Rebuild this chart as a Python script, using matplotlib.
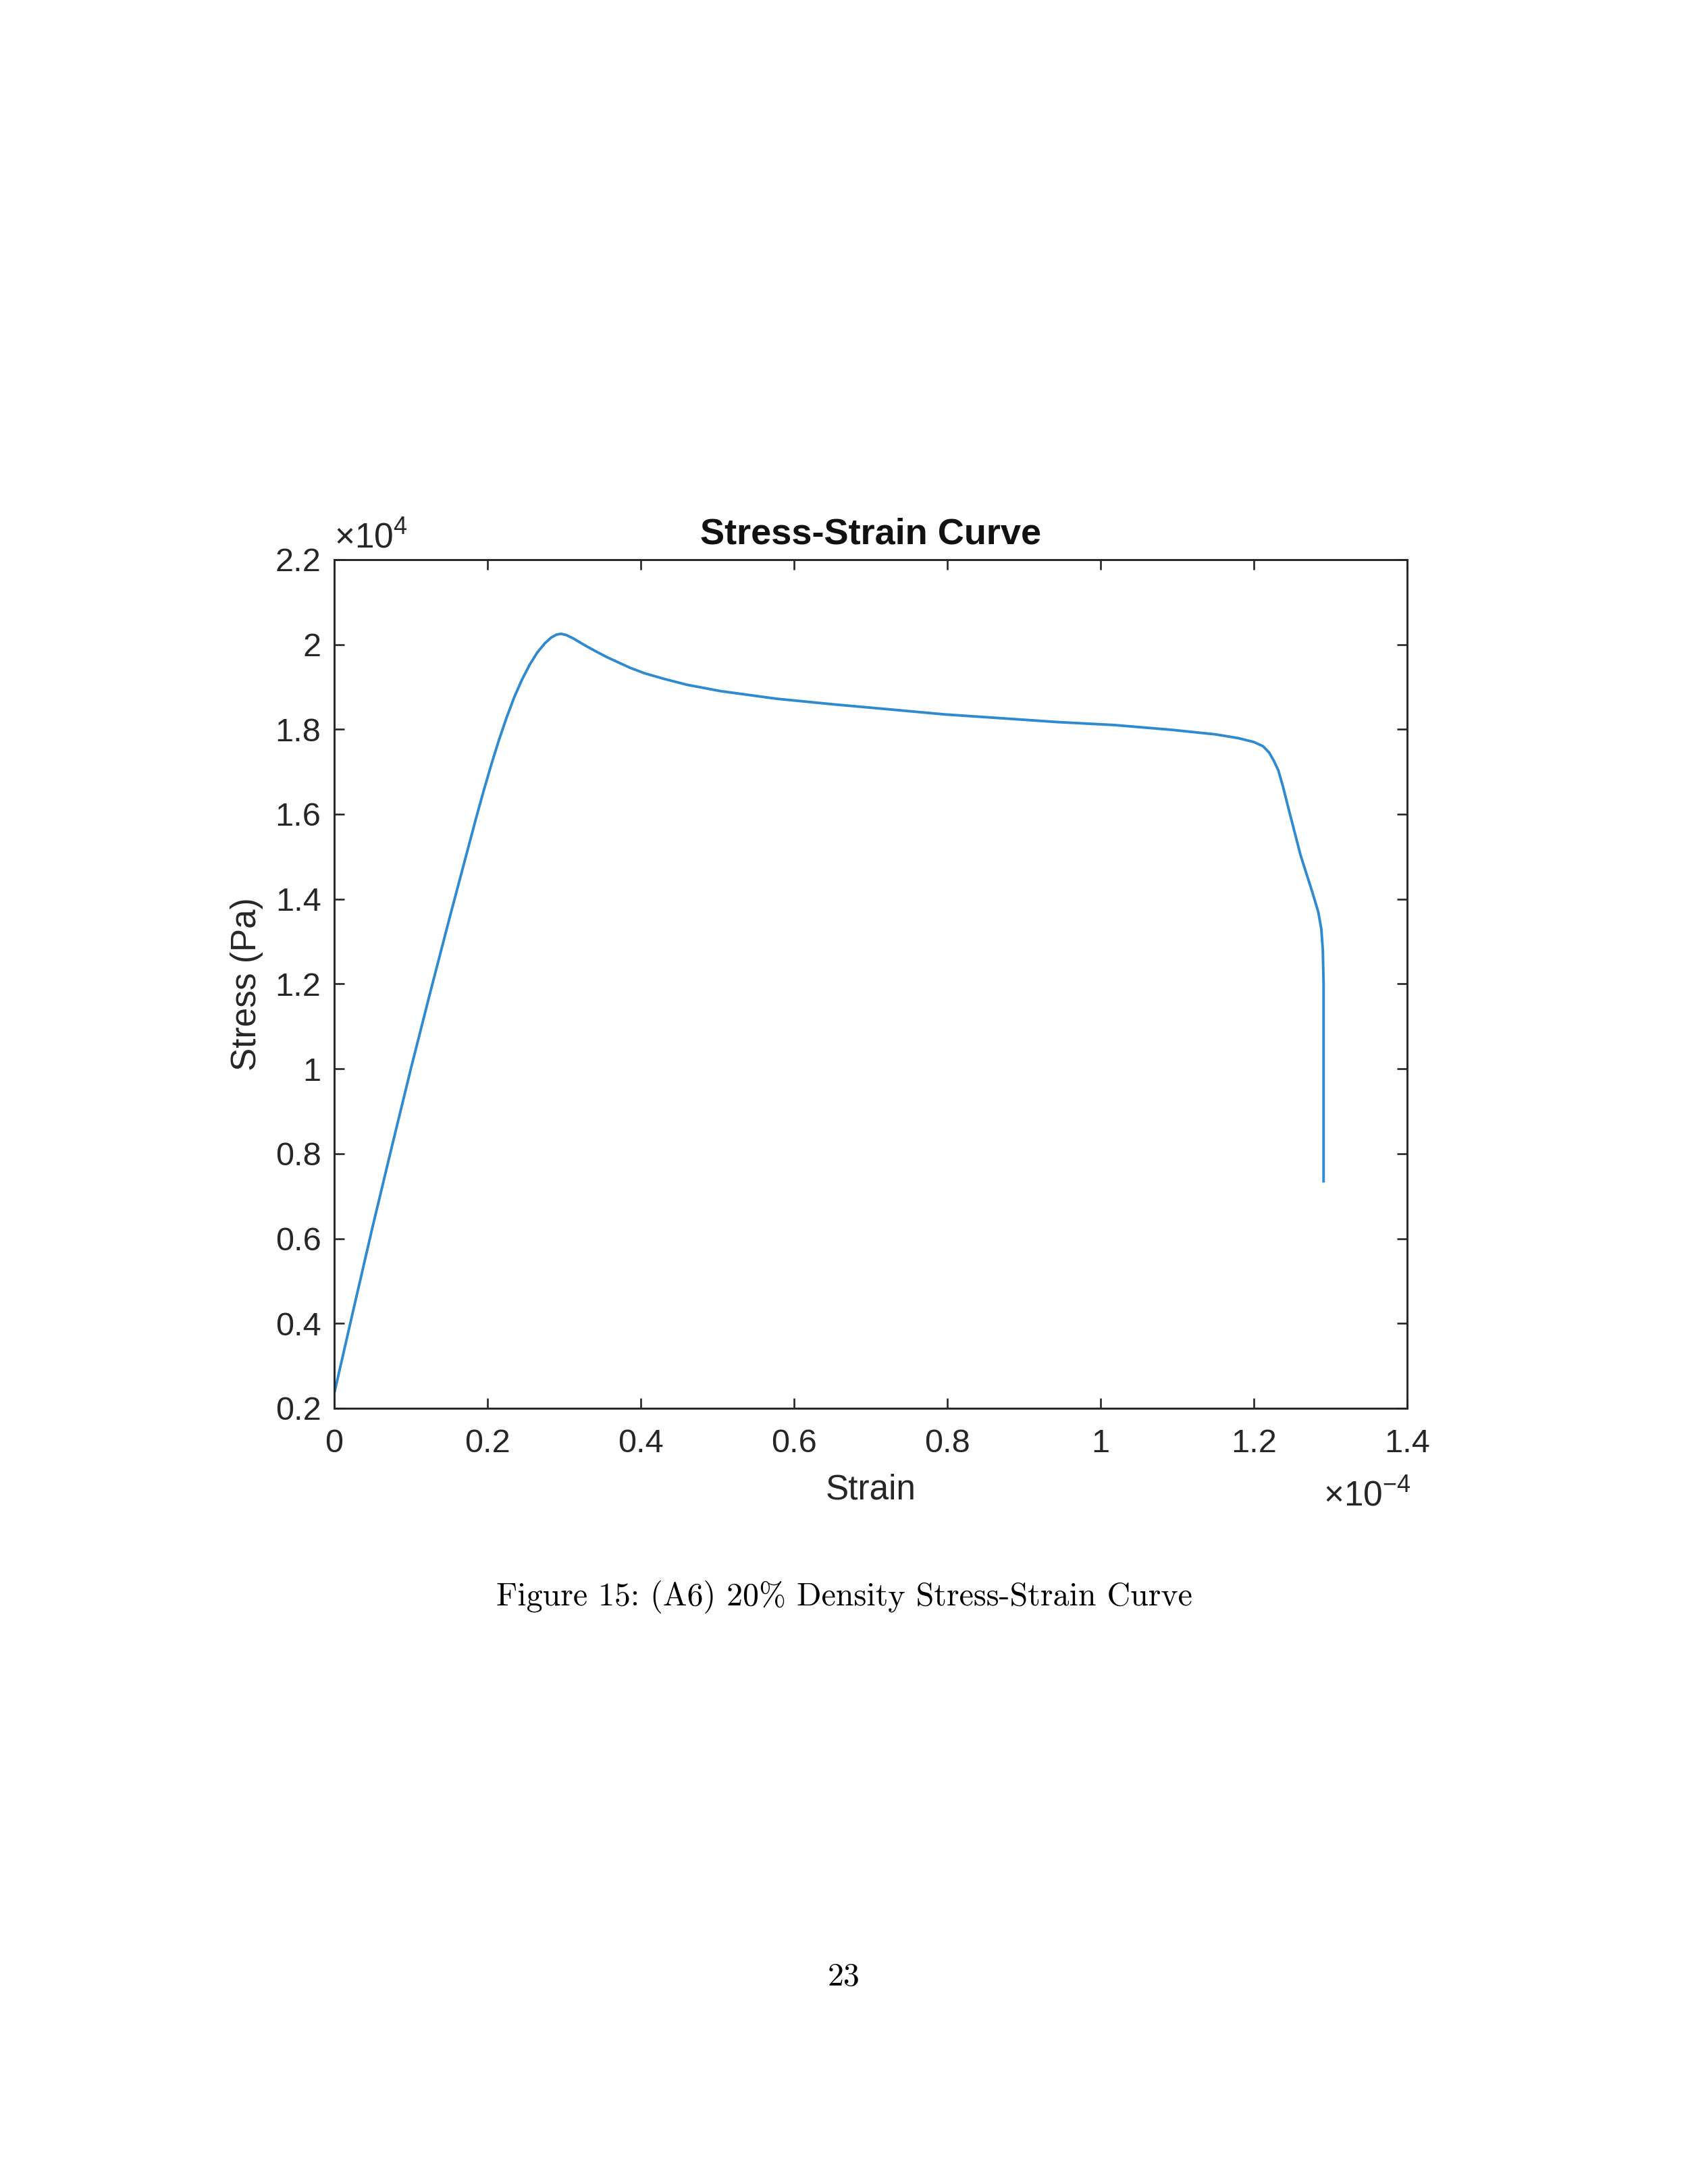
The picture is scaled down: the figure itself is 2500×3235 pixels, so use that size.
import numpy as np
import matplotlib
matplotlib.use("Agg")
import matplotlib.pyplot as plt
from matplotlib.ticker import FuncFormatter, FixedLocator

# ---- data (strain in units of 1e-4, stress in units of 1e4 Pa) ----
strain_e4 = [0.000, 0.025, 0.050, 0.075, 0.100, 0.125, 0.150, 0.175, 0.185,
             0.195, 0.205, 0.215, 0.225, 0.235, 0.245, 0.255, 0.265, 0.275,
             0.283, 0.290, 0.296, 0.303, 0.312, 0.327, 0.342, 0.357, 0.386,
             0.405, 0.430, 0.460, 0.504, 0.577, 0.650, 0.724, 0.797, 0.871,
             0.944, 1.018, 1.091, 1.150, 1.180, 1.200, 1.212, 1.220, 1.226,
             1.232, 1.238, 1.244, 1.261, 1.276, 1.284, 1.288, 1.290, 1.291,
             1.291]
stress_e4 = [0.235, 0.432, 0.627, 0.815, 1.000, 1.178, 1.352, 1.522, 1.590,
             1.655, 1.717, 1.775, 1.828, 1.876, 1.917, 1.952, 1.981, 2.003,
             2.016, 2.023, 2.025, 2.022, 2.014, 1.998, 1.983, 1.969, 1.945,
             1.932, 1.919, 1.905, 1.890, 1.872, 1.859, 1.847, 1.835, 1.826,
             1.817, 1.810, 1.799, 1.788, 1.779, 1.770, 1.760, 1.745, 1.726,
             1.703, 1.665, 1.622, 1.503, 1.418, 1.370, 1.330, 1.280, 1.200,
             0.735]

x_ticks = [0, 0.2, 0.4, 0.6, 0.8, 1.0, 1.2, 1.4]
y_ticks = [0.2, 0.4, 0.6, 0.8, 1.0, 1.2, 1.4, 1.6, 1.8, 2.0, 2.2]

title_text = "Stress-Strain Curve"
x_label = "Strain"
y_label = "Stress (Pa)"
caption = "Figure 15: (A6) 20% Density Stress-Strain Curve"
page_number = "23"

# ---- styling ----
plt.rcParams['font.family'] = ['Liberation Sans', 'DejaVu Sans']
plt.rcParams['mathtext.fontset'] = 'custom'
plt.rcParams['mathtext.rm'] = 'Liberation Sans'

axis_col = '#262626'
line_col = '#2f8ad0'

fig = plt.figure(figsize=(25, 32.35), dpi=100)
ax = fig.add_axes([0.198, 0.3552, 0.6356, 0.3886])

ax.plot(strain_e4, stress_e4, color=line_col, lw=2.8, solid_joinstyle='round')

ax.set_xlim(0, 1.4)
ax.set_ylim(0.2, 2.2)
ax.xaxis.set_major_locator(FixedLocator(x_ticks))
ax.yaxis.set_major_locator(FixedLocator(y_ticks))
fmt = FuncFormatter(lambda v, p: "%g" % round(v, 3))
ax.xaxis.set_major_formatter(fmt)
ax.yaxis.set_major_formatter(fmt)

for s in ax.spines.values():
    s.set_color(axis_col)
    s.set_linewidth(2.1)

ax.tick_params(axis='both', which='major', direction='in', length=11,
               width=1.9, color=axis_col, labelcolor=axis_col,
               labelsize=35, top=True, right=True)
ax.tick_params(axis='x', pad=22)
ax.tick_params(axis='y', pad=14)

ax.set_title(title_text, fontsize=39, fontweight='bold', color='#111111', pad=17)
ax.set_xlabel(x_label, fontsize=37, color=axis_col, labelpad=15)
ax.set_ylabel(y_label, fontsize=37, color=axis_col, labelpad=13)

# exponent (offset) labels
fig.text(0.198, 0.749, r'$\times\mathregular{10^{4}}$', fontsize=37,
         color=axis_col, ha='left', va='baseline')
fig.text(0.836, 0.3105, r'$\times\mathregular{10^{-4}}$', fontsize=37,
         color=axis_col, ha='right', va='baseline')

# caption & page number (LaTeX-like serif)
fig.text(0.5, 0.2650, caption, fontsize=34.5, family='cmr10', color='black',
         ha='center', va='baseline')
fig.text(0.5, 0.0910, page_number, fontsize=34.5, family='cmr10', color='black',
         ha='center', va='baseline')

fig.savefig('out.png', dpi=100, facecolor='white')
